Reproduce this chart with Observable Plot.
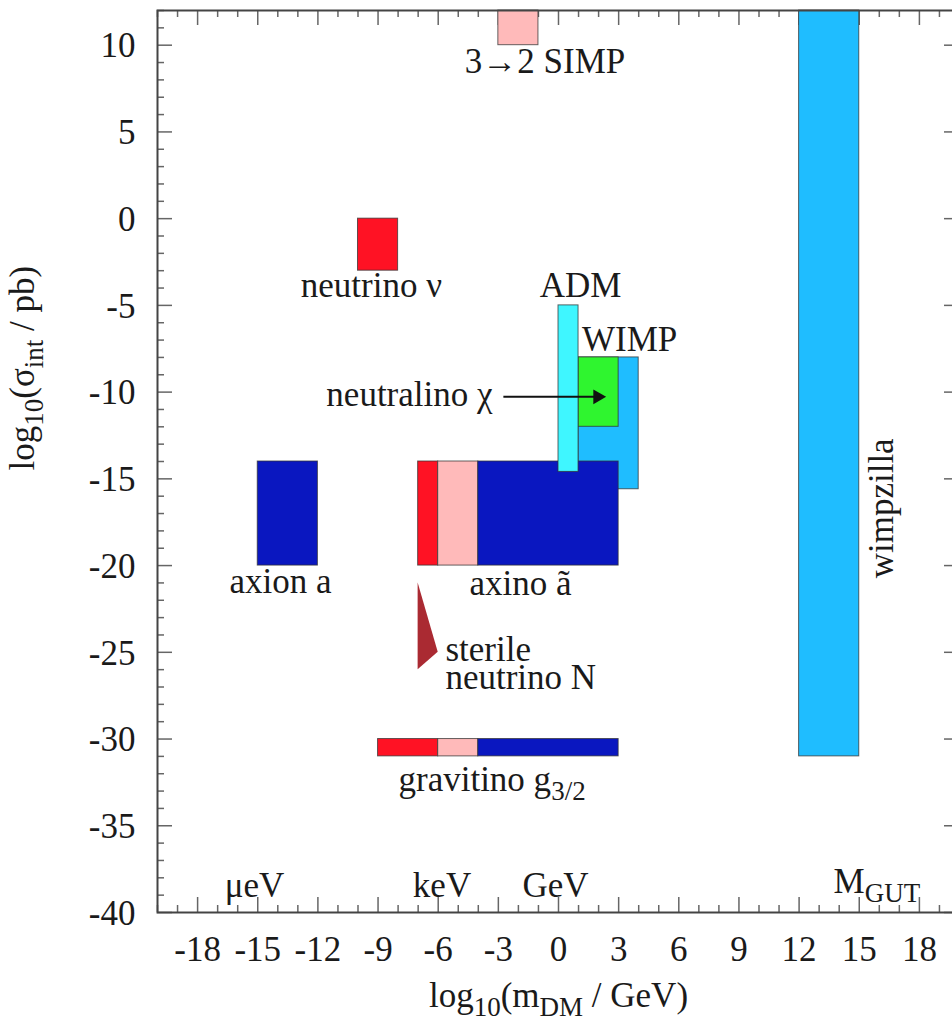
<!DOCTYPE html>
<html><head><meta charset="utf-8">
<script src="https://cdn.jsdelivr.net/npm/d3@7"></script>
<script src="https://cdn.jsdelivr.net/npm/@observablehq/plot@0.6"></script>
<style>html,body{margin:0;padding:0;background:#fff;overflow:hidden}</style>
</head><body><div id="chart"></div>
<script>
// ---- data ----
const xDomain = [-20, 20];
const yDomain = [-40, 12];
const xMajorTicks = [-18, -15, -12, -9, -6, -3, 0, 3, 6, 9, 12, 15, 18];
const yMajorTicks = [10, 5, 0, -5, -10, -15, -20, -25, -30, -35, -40];
const xTitle = "log_{10}(m_{DM} / GeV)";
const yTitle = "log_{10}(σ_{int} / pb)";

// candidate regions (drawn in this order)
const boxNames = ["3→2 SIMP", "neutrino", "WIMP", "neutralino", "axion", "axino (hot)", "axino (warm)", "axino (cold)", "ADM", "gravitino (hot)", "gravitino (warm)", "gravitino (cold)", "wimpzilla"];
const boxKind  = ["warm", "hot", "wimp", "neutralino", "cold", "hot", "warm", "cold", "adm", "hot", "warm", "cold", "wimp"];
const boxX1 = [-3, -10, 1, 1, -15, -7, -6, -4, 0, -9, -6, -4, 12];
const boxX2 = [-1, -8, 4, 3, -12, -6, -4, 3, 1, -6, -4, 3, 15];
const boxY1 = [10, -3, -15.6, -12, -20, -20, -20, -20, -14.6, -31, -31, -31, -31];
const boxY2 = [12, 0, -8, -8, -14, -14, -14, -14, -5, -30, -30, -30, 12];

// sterile neutrino wedge
const sterileY = [-26, -25, -21];
const sterileX = [-7, -6, -7];
const sterileBase = -7;

// neutralino pointer
const arrowX1 = -2.45, arrowX2 = 2.35, arrowY = -10.27;

// labels
const labelText = ["3→2 SIMP", "neutrino ν", "ADM", "WIMP", "neutralino χ", "axion a", "axino ã", "sterile\nneutrino N", "gravitino g_{3/2}", "wimpzilla", "μeV", "keV", "GeV", "M_{GUT}"];
const labelX = [-0.67, -9.33, 1.1, 3.55, -3.29, -13.87, -1.9, -5.64, -7.98, 16.7, -15.16, -5.81, -0.15, 13.72];
const labelY = [8.37, -4.54, -4.54, -7.61, -10.78, -21.56, -21.67, -27.1, -32.97, -16.7, -39.13, -39.13, -39.13, -38.9];
const labelAnchor = ["middle", "middle", "middle", "middle", "end", "middle", "middle", "start", "start", "middle", "middle", "middle", "middle", "start"];
const labelRotate = [0, 0, 0, 0, 0, 0, 0, 0, 0, -90, 0, 0, 0, 0];

// colour classes
const kindDomain = ["hot", "warm", "cold", "wimp", "neutralino", "adm", "sterile"];
const kindColors = ["#ff1224", "#ffbaba", "#0a17c0", "#1fbdff", "#2ff52f", "#3ff6ff", "#aa2a32"];

// ---- layout ----
const W = 952, H = 1026, mL = 157, mR = -7, mT = 10, mB = 114;
const innerW = W - mL - mR, innerH = H - mT - mB;
const majorLen = 15, minorLen = 7;
const tickColor = "#666";
const ink = "#1a1a1a";
const idx = a => a.map((_, i) => i);
const xMinorTicks = d3.range(xDomain[0], xDomain[1] + 1).filter(v => !xMajorTicks.includes(v));
const yMinorTicks = d3.range(yDomain[0], yDomain[1] + 1).filter(v => !yMajorTicks.includes(v));

const labelMarks = ["start", "middle", "end"].map(a =>
  Plot.text(idx(labelText).filter(i => labelAnchor[i] === a), {
    x: i => labelX[i], y: i => labelY[i], text: i => labelText[i],
    rotate: i => labelRotate[i], textAnchor: a, lineAnchor: "bottom", lineHeight: 0.8, fill: ink
  })
);

const plot = Plot.plot({
  width: W, height: H,
  marginLeft: mL, marginRight: mR, marginTop: mT, marginBottom: mB,
  style: {fontFamily: "'Liberation Serif', 'Times New Roman', serif", fontSize: "35px", color: ink, background: "#fff"},
  x: {domain: xDomain, axis: null},
  y: {domain: yDomain, axis: null},
  color: {domain: kindDomain, range: kindColors},
  marks: [
    // inward ticks (gnuplot style)
    Plot.tickX(xMinorTicks, {x: d => d, insetTop: innerH - minorLen, stroke: tickColor, strokeWidth: 1.5}),
    Plot.tickX(xMajorTicks, {x: d => d, insetTop: innerH - majorLen, stroke: tickColor, strokeWidth: 1.5}),
    Plot.tickX(xMinorTicks, {x: d => d, insetBottom: innerH - minorLen, stroke: tickColor, strokeWidth: 1.5}),
    Plot.tickX(xMajorTicks, {x: d => d, insetBottom: innerH - majorLen, stroke: tickColor, strokeWidth: 1.5}),
    Plot.tickY(yMinorTicks, {y: d => d, insetRight: innerW - minorLen, stroke: tickColor, strokeWidth: 1.5}),
    Plot.tickY(yMajorTicks, {y: d => d, insetRight: innerW - majorLen, stroke: tickColor, strokeWidth: 1.5}),
    Plot.tickY(yMinorTicks, {y: d => d, insetLeft: innerW - minorLen, stroke: tickColor, strokeWidth: 1.5}),
    Plot.tickY(yMajorTicks, {y: d => d, insetLeft: innerW - majorLen, stroke: tickColor, strokeWidth: 1.5}),
    // regions
    Plot.rect(idx(boxNames), {x1: i => boxX1[i], x2: i => boxX2[i], y1: i => boxY1[i], y2: i => boxY2[i], fill: i => boxKind[i], stroke: "#333", strokeOpacity: 0.75, strokeWidth: 1, title: i => boxNames[i]}),
    Plot.areaX(idx(sterileY), {y: i => sterileY[i], x1: () => sterileBase, x2: i => sterileX[i], fill: () => "sterile"}),
    // pointer
    Plot.link([0], {x1: () => arrowX1, x2: () => arrowX2, y1: () => arrowY, y2: () => arrowY, stroke: "#111", strokeWidth: 2, dx: -6}),
    Plot.dot([0], {x: () => arrowX2, y: () => arrowY, symbol: "triangle", rotate: 90, r: 5.5, fill: "#111", stroke: "none", dx: -8}),
    Plot.frame({stroke: "#444", strokeWidth: 2}),
    // labels
    ...labelMarks,
    // tick labels
    Plot.text(xMajorTicks, {x: d => d, text: d => String(d), frameAnchor: "bottom", dy: 37, lineAnchor: "middle", fill: ink}),
    Plot.text(yMajorTicks, {y: d => d, text: d => String(d), frameAnchor: "left", dx: -22, dy: 1, textAnchor: "end", lineAnchor: "middle", fill: ink}),
    // axis titles
    Plot.text([xTitle], {text: d => d, frameAnchor: "bottom", dy: 94, lineAnchor: "bottom", fill: ink}),
    Plot.text([yTitle], {text: d => d, frameAnchor: "left", rotate: -90, dx: -124, dy: 9, lineAnchor: "bottom", fill: ink})
  ]
});

// turn "_{...}" into real subscript tspans
const SUB_SIZE = 27, SUB_SHIFT = 9;
plot.querySelectorAll("text").forEach(t => {
  if (t.children.length) return;
  const s = t.textContent;
  if (!s.includes("_{")) return;
  t.textContent = "";
  const parts = s.split(/_\{([^}]*)\}/);
  let shifted = false;
  parts.forEach((p, i) => {
    const isSub = i % 2 === 1;
    if (!p) return;
    const ts = document.createElementNS("http://www.w3.org/2000/svg", "tspan");
    if (isSub) {
      ts.setAttribute("font-size", SUB_SIZE);
      if (!shifted) { ts.setAttribute("dy", SUB_SHIFT); shifted = true; }
    } else if (shifted) {
      ts.setAttribute("dy", -SUB_SHIFT); shifted = false;
    }
    ts.textContent = p;
    t.appendChild(ts);
  });
});

document.getElementById("chart").appendChild(plot);
</script>
</body></html>
